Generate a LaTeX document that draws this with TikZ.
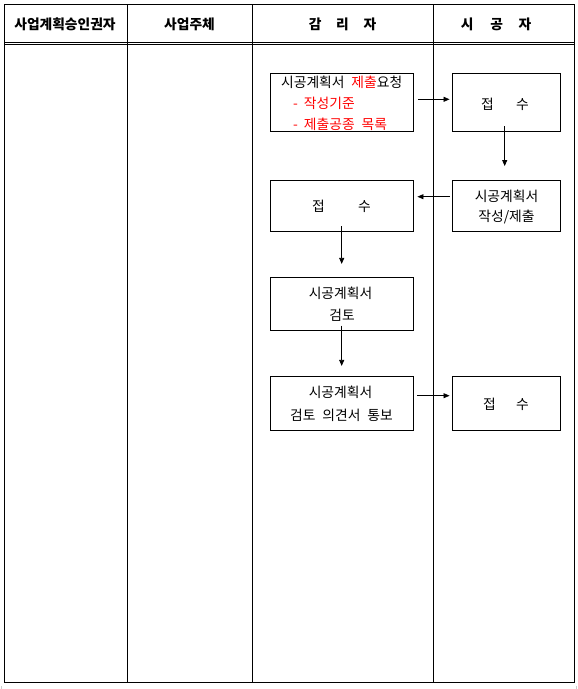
\documentclass[tikz,border=0pt]{standalone}
\usepackage{fontspec}
\setmainfont{Noto Sans CJK KR}
\usetikzlibrary{arrows.meta}
\tikzset{
  stepbox/.style={draw=black, line width=0.9pt, rectangle, inner sep=0pt},
  txt/.style={inner sep=0pt, font=\fontsize{13.8}{16}\selectfont},
  hdr/.style={inner sep=0pt, font=\fontsize{13.75}{16}\selectfont\bfseries},
  arr/.style={line width=0.8pt, -{Triangle[length=6pt,width=5pt]}},
  grid/.style={line width=1pt, black},
  thin/.style={line width=0.6pt, black}
}
\begin{document}
\begin{tikzpicture}[x=1pt,y=-1pt]
\useasboundingbox (0,0) rectangle (578,689);
% table frame
\draw[grid] (4,4.5) rectangle (574.3,682.3);
\draw[grid] (127.3,4.5) -- (127.3,682.3);
\draw[grid] (252.3,4.5) -- (252.3,682.3);
\draw[grid] (433.3,4.5) -- (433.3,682.3);
\draw[thin] (4,42) -- (574.3,42);
\draw[thin] (4,44.7) -- (574.3,44.7);
% faint page marks
\draw[gray!40, line width=0.5pt] (1,686) -- (1,689);
\draw[gray!40, line width=0.5pt] (576.5,686) -- (576.5,689);
% headers
\node[hdr] (h1) at (65,24) {사업계획승인권자};
\node[hdr] (h2) at (189.5,24) {사업주체};
\node[hdr] (h3) at (342.5,24) {감\hspace{14.7pt}리\hspace{14.7pt}자};
\node[hdr] (h4) at (496,24) {시\hspace{17pt}공\hspace{15.5pt}자};
% boxes
\node[stepbox, minimum width=143pt, minimum height=57.5pt] (a) at (342,102.25) {};
\node[stepbox, minimum width=108.4pt, minimum height=57.5pt] (b) at (506.5,102.25) {};
\node[stepbox, minimum width=143pt, minimum height=51.4pt] (c) at (342,206) {};
\node[stepbox, minimum width=108.4pt, minimum height=51.4pt] (d) at (506.5,206) {};
\node[stepbox, minimum width=143pt, minimum height=52.7pt] (e) at (342,303.7) {};
\node[stepbox, minimum width=143pt, minimum height=53.7pt] (f) at (342,403.2) {};
\node[stepbox, minimum width=108.4pt, minimum height=53.7pt] (g) at (506.5,403.2) {};
% texts
\node[txt] (a1) at (341.7,82.7) {시공계획서\hspace{0.5em}{\color{red}제출}요청};
\node[txt, anchor=west] (a2) at (293,103.3) {\color{red}-\hspace{6pt}작성기준};
\node[txt, anchor=west] (a3) at (293,124) {\color{red}-\hspace{6pt}제출공종\hspace{0.5em}목록};
\node[txt] (b1) at (505,104) {접\hspace{22.2pt}수};
\node[txt] (c1) at (341.5,206.7) {접\hspace{33.2pt}수};
\node[txt] (d1) at (506.5,196.7) {시공계획서};
\node[txt] (d2) at (506.5,216.7) {작성/제출};
\node[txt] (e1) at (340.5,293) {시공계획서};
\node[txt] (e2) at (342,315) {검토};
\node[txt] (f1) at (340.5,392) {시공계획서};
\node[txt] (f2) at (341.5,415) {검토\hspace{0.5em}의견서\hspace{0.5em}통보};
\node[txt] (g1) at (506,404.3) {접\hspace{20.2pt}수};
% arrows
\draw[arr] ([xshift=3.8pt,yshift=2.95pt]a.east) -- ([xshift=-2.3pt,yshift=2.95pt]b.west);
\draw[arr] ([xshift=-1.8pt,yshift=5.3pt]b.south) -- ([xshift=-1.8pt,yshift=13.8pt]d.north);
\draw[arr] ([xshift=-2.3pt,yshift=9.3pt]d.west) -- ([xshift=3.5pt,yshift=9.3pt]c.west -| c.east);
\draw[arr] ([xshift=-0.3pt,yshift=6pt]c.south) -- ([xshift=-0.3pt,yshift=13pt]e.north);
\draw[arr] ([xshift=-0.3pt,yshift=5pt]e.south) -- ([xshift=-0.3pt,yshift=10pt]f.north);
\draw[arr] ([xshift=3.5pt,yshift=7.5pt]f.east) -- ([xshift=-2.3pt,yshift=7.5pt]g.west);
\end{tikzpicture}
\end{document}
